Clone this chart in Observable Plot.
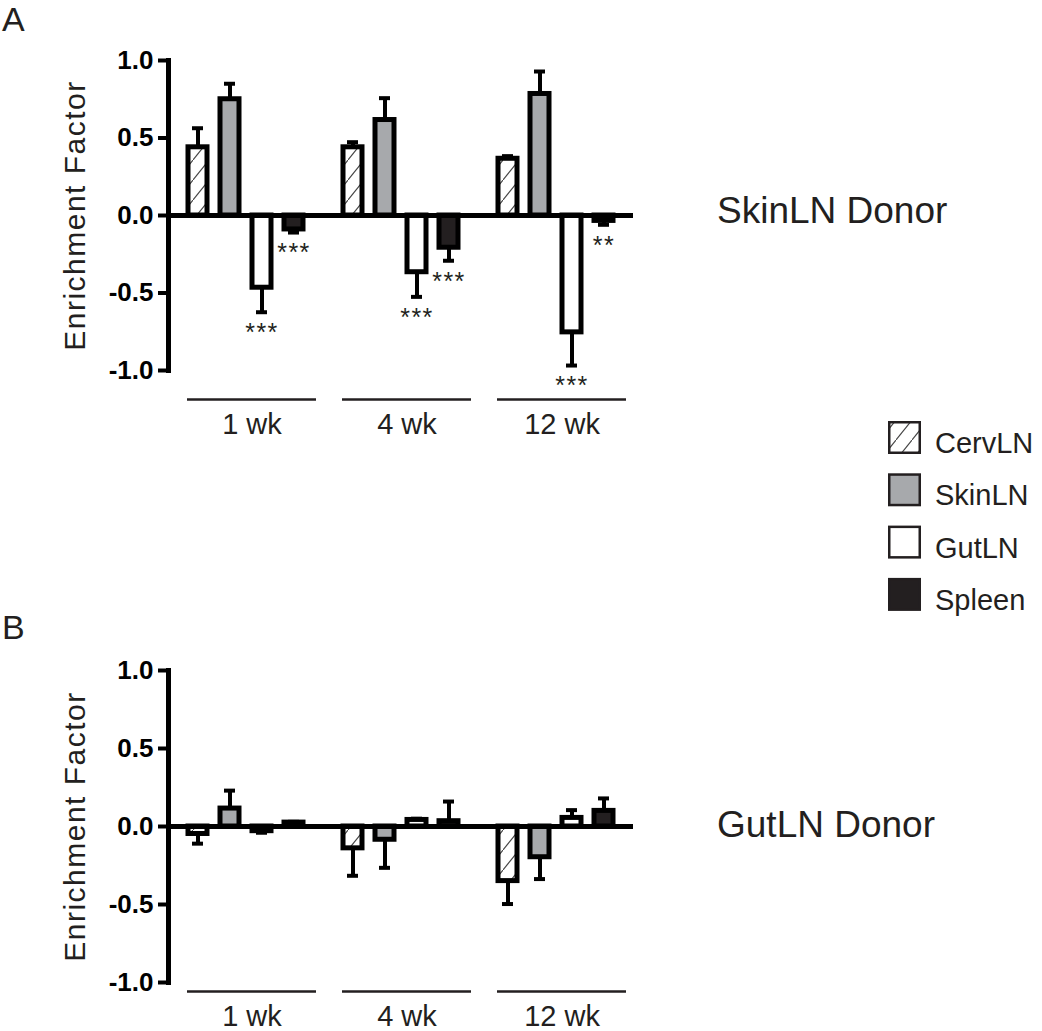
<!DOCTYPE html>
<html><head><meta charset="utf-8">
<script src="https://cdn.jsdelivr.net/npm/d3@7"></script>
<script src="https://cdn.jsdelivr.net/npm/@observablehq/plot@0.6"></script>
<style>
html,body{margin:0;padding:0;background:#fff;}
#root{position:relative;width:1042px;height:1031px;overflow:hidden;font-family:"Liberation Sans",Arial,sans-serif;}
#root > svg{position:absolute;left:0;}
</style></head><body>
<svg width="0" height="0" style="position:absolute">
  <defs>
    <pattern id="hatch" patternUnits="userSpaceOnUse" width="16" height="20">
      <rect width="16" height="20" fill="#fff"/>
      <path d="M-4,25 L20,-5" stroke="#444" stroke-width="1.1" fill="none"/>
    </pattern>
  </defs>
</svg>
<div id="root"></div>
<script>
// ---------- data ----------
const weeks = ["1 wk", "4 wk", "12 wk"];
const tissues = ["CervLN", "SkinLN", "GutLN", "Spleen"];
const yTicks = [-1, -0.5, 0, 0.5, 1];
const yTitle = "Enrichment Factor";
const panelLetters = ["A", "B"];
const donorLabels = ["SkinLN Donor", "GutLN Donor"];

// Panel A (SkinLN donor): mean enrichment, rows = weeks, columns = tissues
const skinDonorMeans = [
  [0.44, 0.75, -0.466, -0.09],
  [0.44, 0.616, -0.366, -0.208],
  [0.366, 0.784, -0.754, -0.035]
];
const skinDonorSEM = [
  [0.123, 0.10, 0.158, 0.02],
  [0.033, 0.141, 0.159, 0.084],
  [0.017, 0.145, 0.214, 0.025]
];
const skinDonorStars = [
  ["", "", "***", "***"],
  ["", "", "***", "***"],
  ["", "", "***", "**"]
];

// Panel B (GutLN donor)
const gutDonorMeans = [
  [-0.048, 0.115, -0.03, 0.025],
  [-0.14, -0.085, 0.042, 0.034],
  [-0.35, -0.197, 0.055, 0.10]
];
const gutDonorSEM = [
  [0.062, 0.115, 0.01, 0.005],
  [0.176, 0.18, 0.008, 0.126],
  [0.147, 0.14, 0.05, 0.08]
];

// ---------- styles ----------
const FONT = '"Liberation Sans", Arial, Helvetica, sans-serif';
const INK = "#231f20";
const tissueFill = ["url(#hatch)", "#a7a9ac", "#ffffff", "#231f20"];

function table(means, sems, stars) {
  const rows = [];
  weeks.forEach((w, i) => tissues.forEach((t, j) => {
    const m = means[i][j], s = sems[i][j];
    rows.push({
      week: w, tissue: t, mean: m,
      end: m + (m < 0 ? -1 : 1) * s,
      star: stars ? stars[i][j] : "",
      fill: tissueFill[j]
    });
  }));
  return rows;
}

function panel(rows, {height, marginBottom, underlineDy, labelDy}) {
  const svg = Plot.plot({
    width: 700, height,
    marginTop: 60, marginLeft: 167, marginRight: 66.5, marginBottom,
    style: {fontFamily: FONT, background: "transparent", color: "#000", overflow: "visible"},
    fx: {domain: weeks, padding: 0, axis: null, label: null},
    x: {domain: tissues, paddingInner: 0.394, paddingOuter: 0.553, axis: null, label: null},
    y: {domain: [-1, 1], axis: null, label: null},
    color: {type: "identity"},
    marks: [
      Plot.ruleX(rows, {fx: "week", x: "tissue", y1: "mean", y2: "end", stroke: "#000", strokeWidth: 4}),
      Plot.barY(rows, {fx: "week", x: "tissue", y1: 0, y2: "mean", fill: "fill", stroke: "#000", strokeWidth: 5}),
      Plot.tickY(rows, {fx: "week", x: "tissue", y: "end", stroke: "#000", strokeWidth: 4, insetLeft: 4, insetRight: 4}),
      Plot.ruleY([0], {stroke: "#000", strokeWidth: 5}),
      Plot.frame({anchor: "left", facetAnchor: "left", stroke: "#000", strokeWidth: 5}),
      Plot.axisY(yTicks, {
        anchor: "left", tickSize: 10, tickPadding: 5, stroke: "#000", strokeWidth: 4,
        fontSize: 26, fontWeight: "bold", fill: "#000",
        tickFormat: d => d.toFixed(1), label: null
      }),
      Plot.text([yTitle], {fx: () => weeks[0], frameAnchor: "left", rotate: -90, dx: -84,
        textAnchor: "middle", lineAnchor: "bottom", fontSize: 30, fill: INK}),
      Plot.ruleY([yTicks[0]], {dy: underlineDy, insetLeft: 19, insetRight: 7, stroke: INK, strokeWidth: 2.5}),
      Plot.text(weeks, {fx: d => d, frameAnchor: "bottom", dy: labelDy, dx: 6,
        lineAnchor: "bottom", fontSize: 29, fill: INK}),
      Plot.text(rows.filter(d => d.star), {fx: "week", x: "tissue", y: "end", text: "star",
        lineAnchor: "top", dy: 11, fontSize: 25, fill: INK})
    ]
  });
  d3.select(svg).selectAll("text").filter(function () { return this.textContent === yTitle; })
    .style("letter-spacing", "1.5px");
  d3.select(svg).selectAll("text").filter(function () { return /^\*+$/.test(this.textContent); })
    .style("letter-spacing", "1.5px");
  return svg;
}

const root = document.getElementById("root");

const svgA = panel(table(skinDonorMeans, skinDonorSEM, skinDonorStars),
  {height: 445, marginBottom: 75, underlineDy: 29, labelDy: 63});
svgA.style.top = "0px";
root.appendChild(svgA);

const svgB = panel(table(gutDonorMeans, gutDonorSEM, null),
  {height: 421, marginBottom: 49, underlineDy: 9, labelDy: 43});
svgB.style.top = "610px";
root.appendChild(svgB);

// ---------- overlay: panel letters, donor labels, legend ----------
const ov = d3.select(root).append("svg")
  .attr("width", 1042).attr("height", 1031)
  .style("top", "0px").style("pointer-events", "none")
  .style("font-family", FONT);

ov.selectAll("text.letter").data(panelLetters).join("text")
  .attr("class", "letter")
  .attr("x", 2).attr("y", (d, i) => i === 0 ? 31 : 639)
  .attr("font-size", 34).attr("fill", INK).text(d => d);

ov.selectAll("text.donor").data(donorLabels).join("text")
  .attr("class", "donor")
  .attr("x", 717).attr("y", (d, i) => i === 0 ? 223 : 837)
  .attr("font-size", 37).attr("fill", INK).text(d => d);

const leg = ov.append("g");
tissues.forEach((t, i) => {
  const top = 421 + i * 52.3;
  leg.append("rect")
    .attr("x", 889.25).attr("y", top + 1.25).attr("width", 30.5).attr("height", 30.5)
    .attr("fill", tissueFill[i]).attr("stroke", INK).attr("stroke-width", 2.5);
  leg.append("text")
    .attr("x", 935).attr("y", top + 32)
    .attr("font-size", 29).attr("fill", INK).text(t);
});
</script>
</body></html>
